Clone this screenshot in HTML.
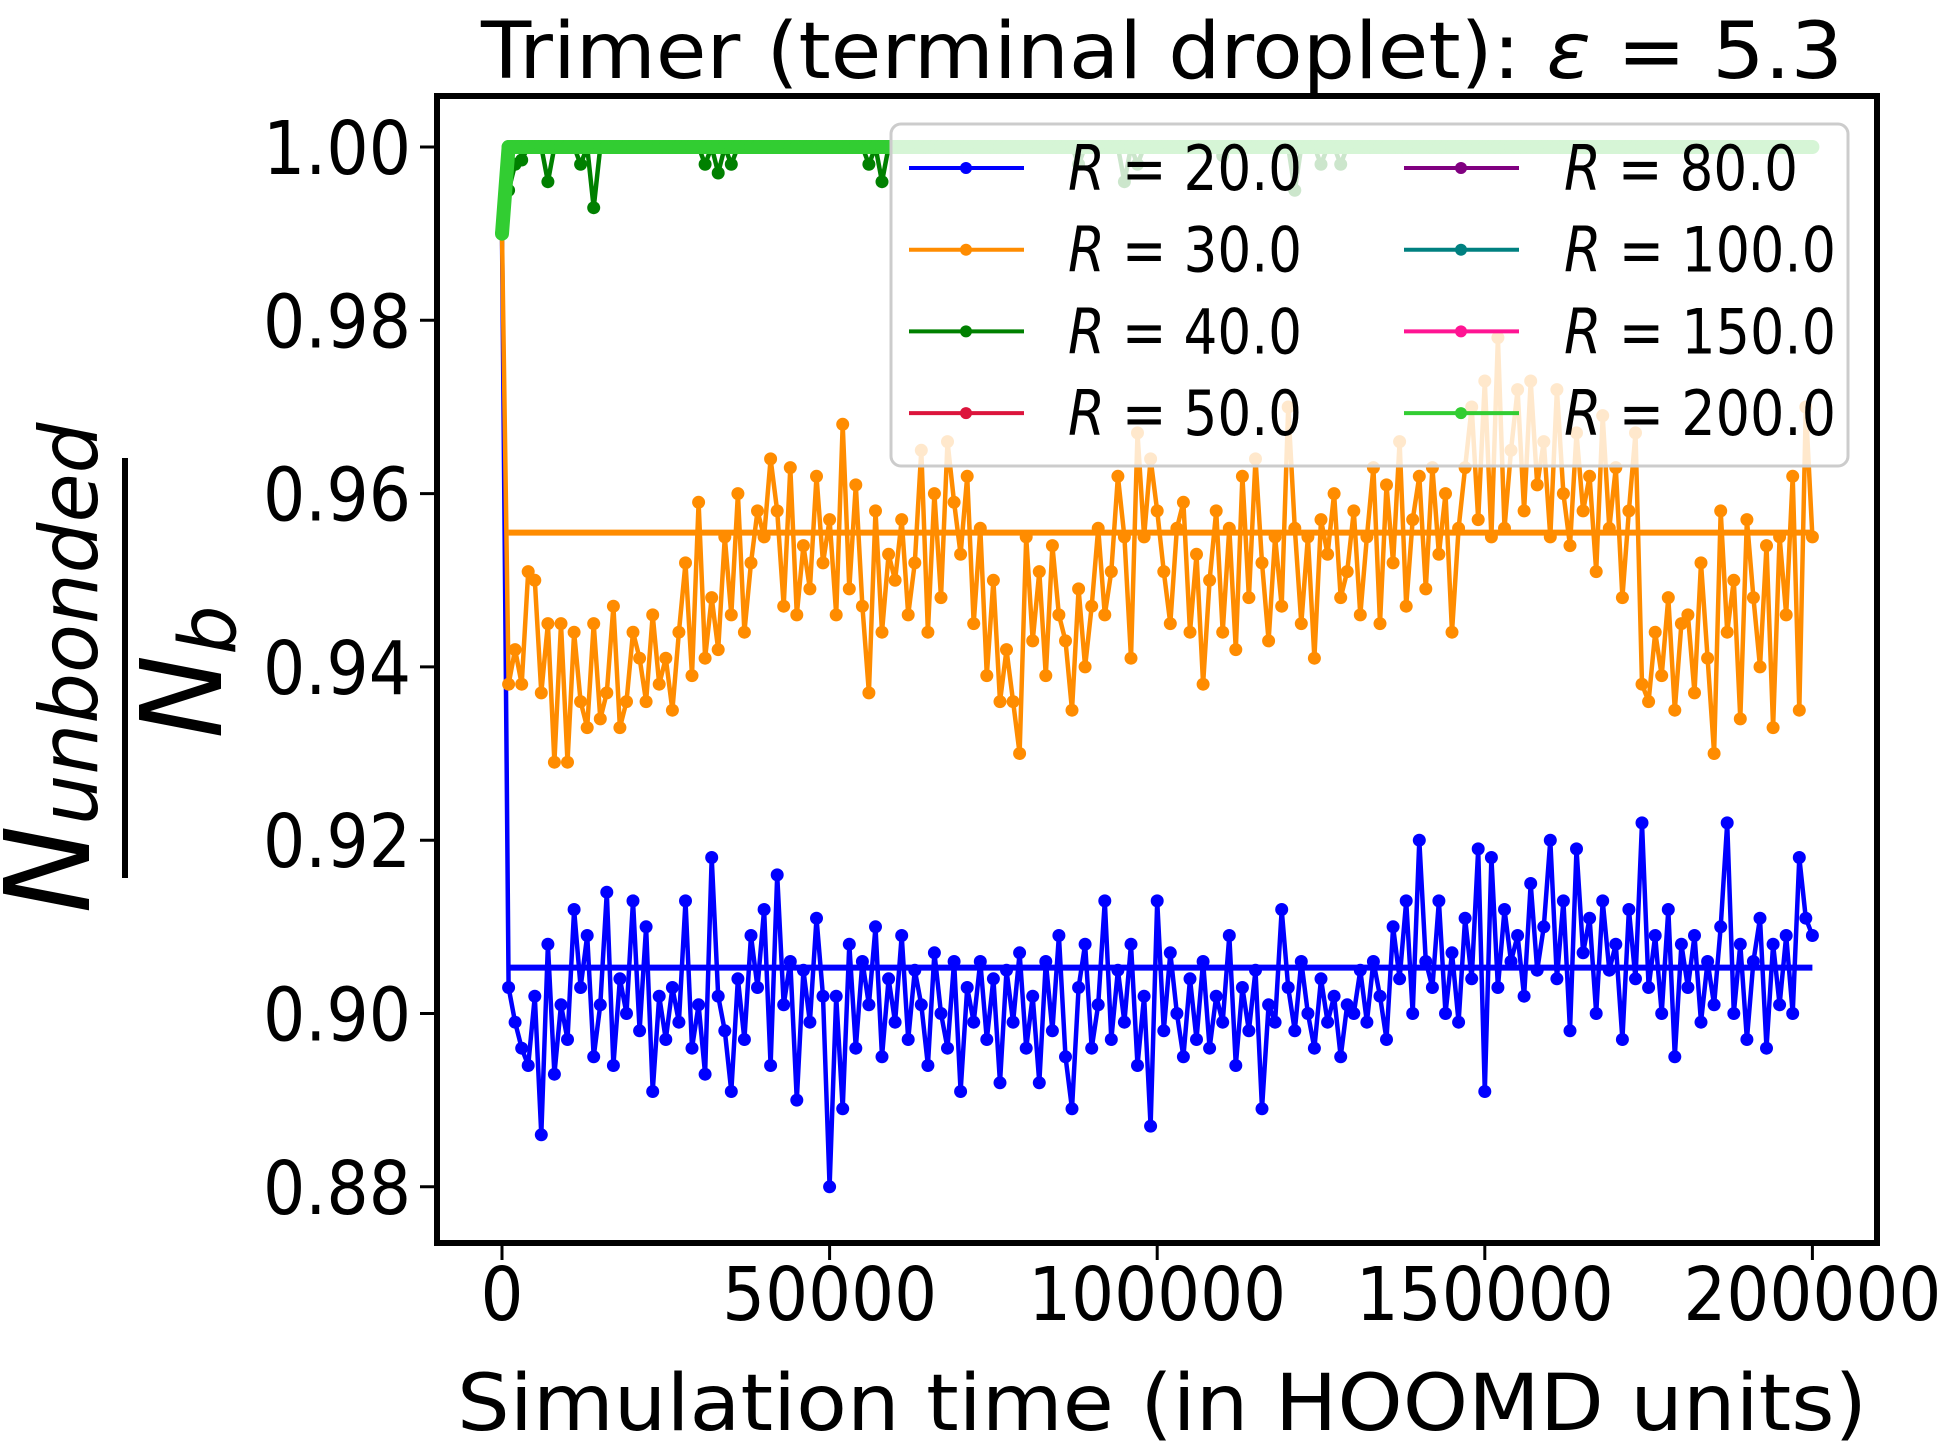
<!DOCTYPE html>
<html><head><meta charset="utf-8"><style>
html,body{margin:0;padding:0;background:#fff;}
svg{display:block;font-family:"DejaVu Sans","Liberation Sans",sans-serif;}
</style></head><body>
<svg id="chart" width="1953" height="1448" viewBox="0 0 1953 1448">
<rect width="1953" height="1448" fill="#fff"/>
<text x="1162" y="78" font-size="78" text-anchor="middle" textLength="1362" lengthAdjust="spacingAndGlyphs">Trimer (terminal droplet): <tspan font-style="italic">ε</tspan> = 5.3</text>
<g id="plot"></g>
<g id="axes"></g>
<g id="legend"></g>
<text x="1162" y="1430" font-size="78" text-anchor="middle" textLength="1410" lengthAdjust="spacingAndGlyphs">Simulation time (in HOOMD units)</text>
<g transform="translate(125,668) rotate(-90)">
<text x="0" y="-36" font-size="118" font-style="italic" text-anchor="middle">N<tspan font-size="80" dy="8">unbonded</tspan></text>
<rect x="-210" y="-3" width="420" height="6" fill="#000"/>
<text x="-4" y="96" font-size="112" font-style="italic" text-anchor="middle">N<tspan font-size="78" dy="14">b</tspan></text>
</g>
</svg>
<script>
const tStep = 1000;
const yTicks = [0.88, 0.90, 0.92, 0.94, 0.96, 0.98, 1.00];
const yTickLabels = ["0.88","0.90","0.92","0.94","0.96","0.98","1.00"];
const xTicks = [0, 50000, 100000, 150000, 200000];
const xTickLabels = ["0","50000","100000","150000","200000"];
const legendLabels = ["20.0","30.0","40.0","50.0","80.0","100.0","150.0","200.0"];
const legendColors = ["#0000ff","#ff8c00","#008000","#dc143c","#800080","#008080","#ff1493","#32cd32"];
const blueVals = [0.990,
0.903,0.899,0.896,0.894,0.902,0.886,0.908,0.893,0.901,0.897,
0.912,0.903,0.909,0.895,0.901,0.914,0.894,0.904,0.900,0.913,
0.898,0.910,0.891,0.902,0.897,0.903,0.899,0.913,0.896,0.901,
0.893,0.918,0.902,0.898,0.891,0.904,0.897,0.909,0.903,0.912,
0.894,0.916,0.901,0.906,0.890,0.905,0.899,0.911,0.902,0.880,
0.902,0.889,0.908,0.896,0.906,0.901,0.910,0.895,0.904,0.899,
0.909,0.897,0.905,0.901,0.894,0.907,0.900,0.896,0.906,0.891,
0.903,0.899,0.906,0.897,0.904,0.892,0.905,0.899,0.907,0.896,
0.902,0.892,0.906,0.898,0.909,0.895,0.889,0.903,0.908,0.896,
0.901,0.913,0.897,0.905,0.899,0.908,0.894,0.902,0.887,0.913,
0.898,0.907,0.900,0.895,0.904,0.897,0.906,0.896,0.902,0.899,
0.909,0.894,0.903,0.898,0.905,0.889,0.901,0.899,0.912,0.903,
0.898,0.906,0.900,0.896,0.904,0.899,0.902,0.895,0.901,0.900,
0.905,0.899,0.906,0.902,0.897,0.910,0.904,0.913,0.900,0.920,
0.906,0.903,0.913,0.900,0.907,0.899,0.911,0.904,0.919,0.891,
0.918,0.903,0.912,0.906,0.909,0.902,0.915,0.905,0.910,0.920,
0.904,0.913,0.898,0.919,0.907,0.911,0.900,0.913,0.905,0.908,
0.897,0.912,0.904,0.922,0.903,0.909,0.900,0.912,0.895,0.908,
0.903,0.909,0.899,0.906,0.901,0.910,0.922,0.900,0.908,0.897,
0.906,0.911,0.896,0.908,0.901,0.909,0.900,0.918,0.911,0.909];
const orangeVals = [0.990,
0.938,0.942,0.938,0.951,0.950,0.937,0.945,0.929,0.945,0.929,
0.944,0.936,0.933,0.945,0.934,0.937,0.947,0.933,0.936,0.944,
0.941,0.936,0.946,0.938,0.941,0.935,0.944,0.952,0.939,0.959,
0.941,0.948,0.942,0.955,0.946,0.960,0.944,0.952,0.958,0.955,
0.964,0.958,0.947,0.963,0.946,0.954,0.949,0.962,0.952,0.957,
0.946,0.968,0.949,0.961,0.947,0.937,0.958,0.944,0.953,0.950,
0.957,0.946,0.952,0.965,0.944,0.960,0.948,0.966,0.959,0.953,
0.962,0.945,0.956,0.939,0.950,0.936,0.942,0.936,0.930,0.955,
0.943,0.951,0.939,0.954,0.946,0.943,0.935,0.949,0.940,0.947,
0.956,0.946,0.951,0.962,0.955,0.941,0.967,0.955,0.964,0.958,
0.951,0.945,0.956,0.959,0.944,0.953,0.938,0.950,0.958,0.944,
0.956,0.942,0.962,0.948,0.964,0.952,0.943,0.955,0.947,0.970,
0.956,0.945,0.955,0.941,0.957,0.953,0.960,0.948,0.951,0.958,
0.946,0.955,0.963,0.945,0.961,0.952,0.966,0.947,0.957,0.962,
0.949,0.963,0.953,0.960,0.944,0.956,0.963,0.970,0.957,0.973,
0.955,0.978,0.956,0.965,0.972,0.958,0.973,0.961,0.966,0.955,
0.972,0.960,0.954,0.967,0.958,0.962,0.951,0.969,0.956,0.963,
0.948,0.958,0.967,0.938,0.936,0.944,0.939,0.948,0.935,0.945,
0.946,0.937,0.952,0.941,0.930,0.958,0.944,0.950,0.934,0.957,
0.948,0.940,0.954,0.933,0.955,0.946,0.962,0.935,0.970,0.955];
const greenVals = [0.990,
0.995,0.998,0.9985,1,1,1,0.996,1,1,1,
1,0.998,1,0.993,1,1,1,1,1,1,
1,1,1,1,1,1,1,1,1,1,
0.998,1,0.997,1,0.998,1,1,1,1,1,
1,1,1,1,1,1,1,1,1,1,
1,1,1,1,1,0.998,1,0.996,1,1,
1,1,1,1,1,1,1,1,1,1,
1,1,1,1,1,1,1,1,1,1,
1,1,1,1,1,1,1,0.998,1,1,
1,1,1,1,0.996,1,0.998,1,1,1,
1,1,1,1,1,1,1,1,1,0.999,
1,1,1,1,1,1,1,1,1,1,
0.995,1,1,1,0.998,1,1,0.998,1,1,
1,1,1,1,1,1,1,1,1,1,
1,1,1,1,1,1,1,1,1,1,
1,1,1,1,1,1,1,1,1,1,
1,1,1,1,1,1,1,1,1,1,
1,1,1,1,1,1,1,1,1,1,
1,1,1,1,1,1,1,1,1,1,
1,1,1,1,1,1,1,1,1,1];
const limeVals = [0.990,
1,1,1,1,1,1,1,1,1,1, 1,1,1,1,1,1,1,1,1,1, 1,1,1,1,1,1,1,1,1,1, 1,1,1,1,1,1,1,1,1,1,
1,1,1,1,1,1,1,1,1,1, 1,1,1,1,1,1,1,1,1,1, 1,1,1,1,1,1,1,1,1,1, 1,1,1,1,1,1,1,1,1,1,
1,1,1,1,1,1,1,1,1,1, 1,1,1,1,1,1,1,1,1,1, 1,1,1,1,1,1,1,1,1,1, 1,1,1,1,1,1,1,1,1,1,
1,1,1,1,1,1,1,1,1,1, 1,1,1,1,1,1,1,1,1,1, 1,1,1,1,1,1,1,1,1,1, 1,1,1,1,1,1,1,1,1,1,
1,1,1,1,1,1,1,1,1,1, 1,1,1,1,1,1,1,1,1,1, 1,1,1,1,1,1,1,1,1,1, 1,1,1,1,1,1,1,1,1,1];
const blueMean = [0.9053];
const orangeMean = [0.9555];

const NS = "http://www.w3.org/2000/svg";
const X0 = 502, XS = 327.6/50000;
const Y0 = 147, YS = 173.3/0.02;
function xs(t){ return X0 + t*XS; }
function ys(v){ return Y0 + (1.0 - v)*YS; }
function mk(tag, attrs, parent){ const e=document.createElementNS(NS,tag); for(const k in attrs) e.setAttribute(k,attrs[k]); parent.appendChild(e); return e; }

const plot = document.getElementById('plot');
function drawSeries(vals, color, name, lw, r){
  const g = mk('g', {}, plot);
  
  
  const pts = vals.map((v,i)=>xs(i*tStep).toFixed(1)+','+ys(v).toFixed(1)).join(' ');
  const pl = mk('polyline', {points:pts, fill:'none', stroke:color, 'stroke-width':lw, 'stroke-linejoin':'round'}, g);
  
  
  vals.forEach((v,i)=>{
    const c = mk('circle', {cx:xs(i*tStep).toFixed(1), cy:ys(v).toFixed(1), r:r, fill:color}, g);
    
    
  });
}
function drawMean(mv, color, name){
  const l = mk('line', {x1:xs(tStep), x2:xs((blueVals.length-1)*tStep), y1:ys(mv[0]), y2:ys(mv[0]), stroke:color, 'stroke-width':6}, plot);
  
  
}
drawSeries(blueVals, '#0000ff', 'series-r20', 4.5, 6.5);
drawMean(blueMean, '#0000ff', 'mean-line-r20');
drawSeries(orangeVals, '#ff8c00', 'series-r30', 4.5, 6.5);
drawMean(orangeMean, '#ff8c00', 'mean-line-r30');
drawSeries(greenVals, '#008000', 'series-r40', 4.5, 6.5);
drawSeries(limeVals, '#32cd32', 'series-r200', 14, 7);

// axes
const axes = document.getElementById('axes');
const frame = mk('rect', {x:437, y:96, width:1440, height:1147, fill:'none', stroke:'#000', 'stroke-width':6}, axes);


yTicks.forEach((v,i)=>{
  const tk = mk('line', {x1:420, x2:437, y1:ys(v), y2:ys(v), stroke:'#000', 'stroke-width':3}, axes);
  
  
  const tx = mk('text', {x:411, y:ys(v)+27, 'font-size':74, 'text-anchor':'end', textLength:148, lengthAdjust:'spacingAndGlyphs'}, axes);
  tx.textContent = yTickLabels[i];
  
  
});
xTicks.forEach((t,i)=>{
  const tk = mk('line', {x1:xs(t), x2:xs(t), y1:1243, y2:1260, stroke:'#000', 'stroke-width':3}, axes);
  
  
  const tx = mk('text', {x:xs(t), y:1320, 'font-size':74, 'text-anchor':'middle', textLength:xTickLabels[i].length*43, lengthAdjust:'spacingAndGlyphs'}, axes);
  tx.textContent = xTickLabels[i];
  
  
});

// legend
const lg = document.getElementById('legend');
const box = mk('rect', {x:891, y:124, width:957, height:342, rx:10, fill:'#fff', 'fill-opacity':0.8, stroke:'#ccc', 'stroke-width':3}, lg);


legendLabels.forEach((lab,i)=>{
  const col = Math.floor(i/4), row = i%4;
  const hx = col===0 ? 909 : 1404;
  const txx = col===0 ? 1068 : 1564;
  const cy = 168 + row*81.7;
  const g = mk('g', {}, lg);
  
  
  mk('line', {x1:hx, x2:hx+115, y1:cy, y2:cy, stroke:legendColors[i], 'stroke-width':4}, g);
  mk('circle', {cx:hx+57, cy:cy, r:6, fill:legendColors[i]}, g);
  const t = mk('text', {x:txx, y:cy+22, 'font-size':62, textLength:(lab.length===4?234:272), lengthAdjust:'spacingAndGlyphs'}, g);
  t.innerHTML = '<tspan font-style="italic">R</tspan> = ' + lab;
});
</script>
</body></html>
